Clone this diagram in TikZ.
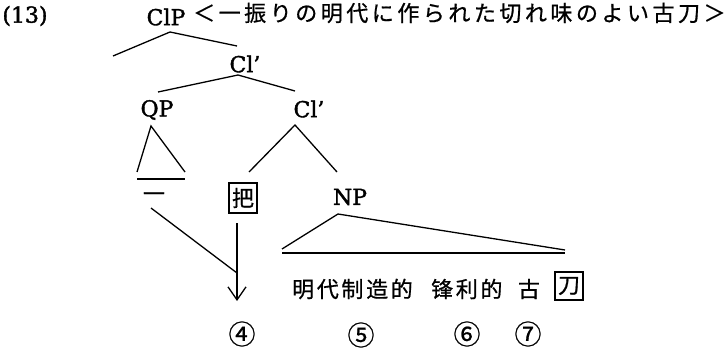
\documentclass[tikz,border=0pt]{standalone}
\usepackage{fontspec}
\usetikzlibrary{arrows.meta}
\newfontfamily\latf{DejaVu Serif}[FakeBold=1.6]
\newfontfamily\jpf{Noto Sans CJK JP}[FakeBold=0.8]
\newfontfamily\jpsp{Noto Sans CJK JP}[LetterSpace=16,FakeBold=0.8]
\newfontfamily\scf{Noto Sans CJK SC}[FakeBold=0.8]
\newfontfamily\scsp{Noto Sans CJK SC}[LetterSpace=12,FakeBold=0.8]
\tikzset{
  lat/.style={font=\latf\fontsize{22}{24}\selectfont, inner sep=0pt},
  gl/.style={font=\jpsp\fontsize{22}{24}\selectfont, inner sep=0pt, anchor=west},
  zh/.style={font=\scsp\fontsize{22}{24}\selectfont, inner sep=0pt, anchor=west},
  zhc/.style={font=\scf\fontsize{22}{24}\selectfont, inner sep=0pt},
  boxed/.style={draw, line width=1.2pt, minimum width=28pt, minimum height=30pt, inner sep=0pt, font=\scf\fontsize{22}{24}\selectfont},
  circ/.style={font=\jpf\fontsize{27}{29}\selectfont, inner sep=0pt},
  br/.style={line width=1.3pt},
}
\begin{document}
\begin{tikzpicture}[x=1pt,y=-1pt]
\useasboundingbox (0,0) rectangle (728,350);
% header
\node[lat] (n13) at (25,16) {(13)};
\node[lat] (clp) at (166,17) {ClP};
\node[gl] (gloss) at (193,13) {＜一振りの明代に作られた切れ味のよい古刀＞};
% tree labels
\node[lat] (cl1) at (245,64) {Cl’};
\node[lat] (qp) at (157,110) {QP};
\node[lat] (cl2) at (309,109) {Cl’};
\node[lat] (np) at (350,197) {NP};
\node[zhc] (yi) at (154,197) {一};
\node[boxed] (ba) at (243,198) {把};
% bottom string
\node[zh] (mdzz) at (292,289) {明代制造的};
\node[zh] (fld) at (431,289) {锋利的};
\node[zhc] (gu) at (529,289) {古};
\node[boxed, minimum height=28pt] (dao) at (569,286) {刀};
% circled numbers
\node[circ] (c4) at (242,334) {④};
\node[circ] (c5) at (361,335) {⑤};
\node[circ] (c6) at (467,334) {⑥};
\node[circ] (c7) at (528,334) {⑦};
% branch points
\coordinate (a0) at (170,32);
\coordinate (a0l) at (113,56);
\coordinate (a0r) at (237,46);
\coordinate (a1) at (238,75);
\coordinate (a1l) at (158,92);
\coordinate (a1r) at (295,91);
\coordinate (a2) at (295,125);
\coordinate (a2l) at (249,172);
\coordinate (a2r) at (337,172);
\coordinate (q0) at (151,126);
\coordinate (q0l) at (137,172);
\coordinate (q0r) at (185,172);
\coordinate (qbl) at (137,179);
\coordinate (qbr) at (185,179);
\coordinate (n0) at (338,214);
\coordinate (n0l) at (282,249);
\coordinate (n0r) at (565,250);
\coordinate (nbl) at (282,253);
\coordinate (nbr) at (565,253);
\coordinate (arrS) at (237,223);
\coordinate (arrE) at (237,301);
\coordinate (dS) at (151,208);
\coordinate (dE) at (237,273);
\draw[br] (a0l) -- (a0) -- (a0r);
\draw[br] (a1l) -- (a1) -- (a1r);
\draw[br] (a2l) -- (a2) -- (a2r);
\draw[br] (q0l) -- (q0) -- (q0r);
\draw[br] (qbl) -- (qbr);
\draw[br] (n0l) -- (n0) -- (n0r);
\draw[br] (nbl) -- (nbr);
\draw[br, -{Straight Barb[length=13pt,width=18pt]}] (arrS) -- (arrE);
\draw[br] (dS) -- (dE);
\end{tikzpicture}
\end{document}
